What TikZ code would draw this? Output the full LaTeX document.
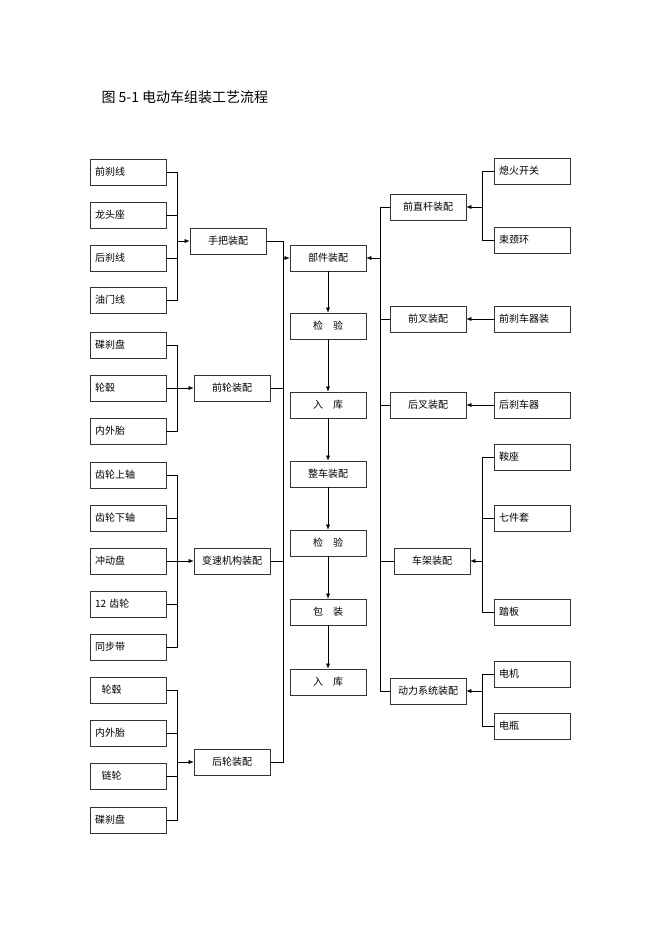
\documentclass[tikz,border=0pt]{standalone}
\usepackage{fontspec}
\setmainfont{Noto Sans CJK SC}
\usetikzlibrary{arrows.meta}
\tikzset{
  part/.style={draw, thick, draw=black!80, minimum width=76pt, minimum height=26pt,
    inner sep=1pt, font=\fontsize{10}{10}\selectfont},
  lpart/.style={part, text width=66pt, align=left},
  flow/.style={-{Latex[length=5pt,width=4pt]}}
}
\begin{document}
\begin{tikzpicture}[x=1pt, y=-1pt]
  \useasboundingbox (0,0) rectangle (662,936);
  \node[anchor=west, font=\fontsize{14}{14}\selectfont] (title) at (98,97) {图 5-1 电动车组装工艺流程};

  % left parts
  \foreach \n/\y/\t in {a1/172/前刹线, a2/215/龙头座, a3/258/后刹线, a4/300/油门线,
      b1/345/碟刹盘, b2/388/轮毂, b3/431/内外胎,
      c1/475/齿轮上轴, c2/518/齿轮下轴, c3/561/冲动盘, c4/604/12 齿轮, c5/647/同步带,
      d1/690/\ \ 轮毂, d2/733/内外胎, d3/776/\ \ 链轮, d4/820/碟刹盘}
    \node[lpart] (\n) at (128,\y) {\t};

  \node[part] (hand) at (228,241) {手把装配};
  \node[part] (fwheel) at (232,388) {前轮装配};
  \node[part] (gear) at (232,561) {变速机构装配};
  \node[part] (rwheel) at (232,762) {后轮装配};

  % centre column
  \node[part] (comp) at (328,258) {部件装配};
  \node[part] (chk1) at (328,326) {检\quad 验};
  \node[part] (store1) at (328,405) {入\quad 库};
  \node[part] (whole) at (328,474) {整车装配};
  \node[part] (chk2) at (328,543) {检\quad 验};
  \node[part] (pack) at (328,612) {包\quad 装};
  \node[part] (store2) at (328,682) {入\quad 库};

  % right side
  \node[part] (stem) at (428,207) {前直杆装配};
  \node[part] (ffork) at (428,319) {前叉装配};
  \node[part] (rfork) at (428,405) {后叉装配};
  \node[part] (frame) at (432,561) {车架装配};
  \node[part] (power) at (428,691) {动力系统装配};
  \foreach \n/\y/\t in {r1/171/熄火开关, r2/240/束颈环, r3/319/前刹车器装, r4/405/后刹车器,
      r5/457/鞍座, r6/518/七件套, r7/612/踏板, r8/674/电机, r9/726/电瓶}
    \node[lpart] (\n) at (532,\y) {\t};

  % brackets on the left
  \draw (a1.east) -| (177,300) -- (a4.east);
  \foreach \n in {a2,a3} \draw (\n.east) -- (177,0 |- \n.east);
  \draw[flow] (177,0 |- hand.west) -- (hand.west);
  \draw (b1.east) -| (177,431) -- (b3.east);
  \draw[flow] (b2.east) -- (fwheel.west);
  \draw (c1.east) -| (177,647) -- (c5.east);
  \foreach \n in {c2,c4} \draw (\n.east) -- (177,0 |- \n.east);
  \draw[flow] (c3.east) -- (gear.west);
  \draw (d1.east) -| (177,820) -- (d4.east);
  \foreach \n in {d2,d3} \draw (\n.east) -- (177,0 |- \n.east);
  \draw[flow] (177,0 |- rwheel.west) -- (rwheel.west);

  % left trunk
  \draw (hand.east) -| (283,762) -- (rwheel.east);
  \foreach \n in {fwheel,gear} \draw (\n.east) -- (283,0 |- \n.east);
  \draw[flow] (283,0 |- comp.west) -- (comp.west);

  % centre flow
  \draw[flow] (comp) -- (chk1);
  \draw[flow] (chk1) -- (store1);
  \draw[flow] (store1) -- (whole);
  \draw[flow] (whole) -- (chk2);
  \draw[flow] (chk2) -- (pack);
  \draw[flow] (pack) -- (store2);

  % right trunk
  \draw (stem.west) -| (380,691) -- (power.west);
  \foreach \n in {ffork,rfork,frame} \draw (\n.west) -- (380,0 |- \n.west);
  \draw[flow] (380,0 |- comp.east) -- (comp.east);

  % brackets on the right
  \draw (r1.west) -| (482,240) -- (r2.west);
  \draw[flow] (482,0 |- stem.east) -- (stem.east);
  \draw[flow] (r3.west) -- (ffork.east);
  \draw[flow] (r4.west) -- (rfork.east);
  \draw (r5.west) -| (482,612) -- (r7.west);
  \draw (r6.west) -- (482,0 |- r6.west);
  \draw[flow] (482,0 |- frame.east) -- (frame.east);
  \draw (r8.west) -| (482,726) -- (r9.west);
  \draw[flow] (482,0 |- power.east) -- (power.east);
\end{tikzpicture}
\end{document}
